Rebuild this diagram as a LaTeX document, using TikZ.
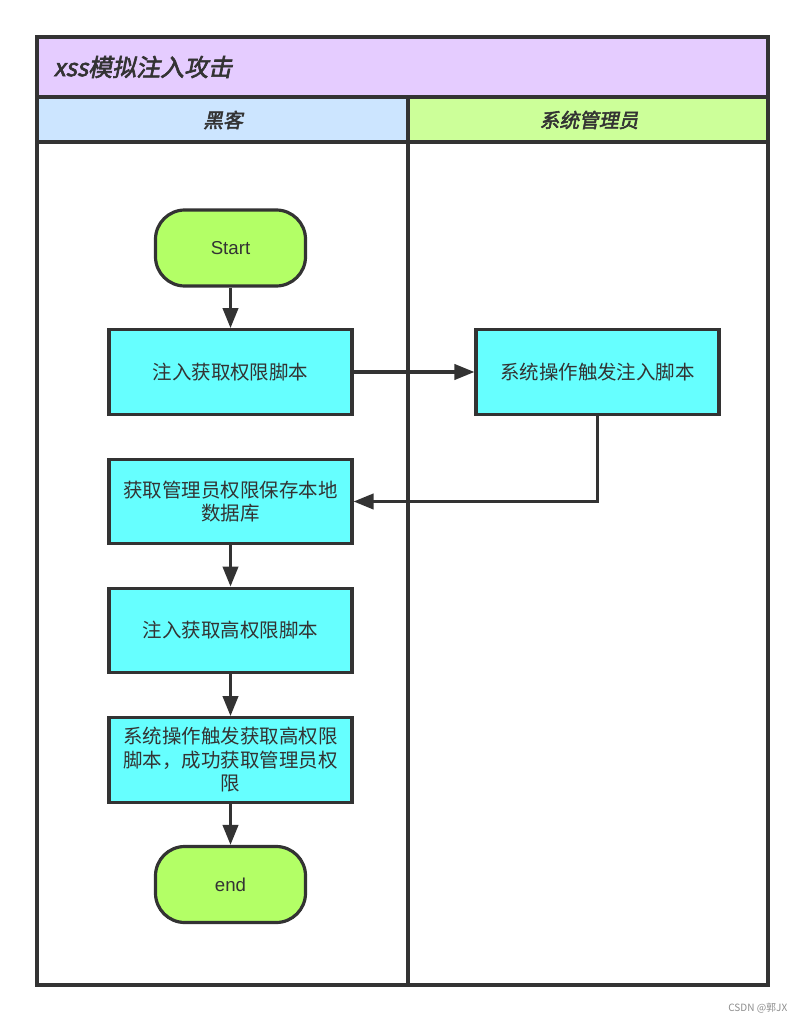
\documentclass[tikz,border=0pt]{standalone}
\usepackage{fontspec}
\setmainfont{Liberation Sans}
\newfontfamily\cjk{Noto Sans CJK SC}
\newfontfamily\cjkbi{Noto Sans CJK SC}[FakeBold=2.5,FakeSlant=0.2]
\usetikzlibrary{arrows.meta}
\definecolor{ink}{HTML}{333333}
\definecolor{titlefill}{HTML}{E5CCFF}
\definecolor{lanea}{HTML}{CCE5FF}
\definecolor{laneb}{HTML}{CCFF99}
\definecolor{termfill}{HTML}{B3FF66}
\definecolor{boxfill}{HTML}{66FFFF}
\tikzset{
  frame/.style={draw=ink,line width=2.4pt},
  stepbox/.style={draw=ink,line width=2.4pt,fill=boxfill,minimum width=182.25pt,minimum height=63.5pt,
    align=center,text=ink,font=\cjk\fontsize{14.6pt}{17.6pt}\selectfont,inner sep=2pt},
  term/.style={draw=ink,line width=2.4pt,fill=termfill,minimum width=112.5pt,minimum height=57pt,
    rounded corners=22pt,text=ink,font=\fontsize{14pt}{16pt}\selectfont},
  flow/.style={draw=ink,line width=2.3pt,-{Triangle[length=15pt,width=11.5pt]}},
  lanetitle/.style={text=ink,font=\cjkbi\fontsize{14.8pt}{17pt}\selectfont}
}
\begin{document}
\begin{tikzpicture}[x=0.75pt,y=-0.75pt]
\useasboundingbox (0,0) rectangle (805,1023);
% pool
\fill[titlefill] (37,37) rectangle (768,97);
\fill[lanea] (37,97) rectangle (408,142);
\fill[laneb] (408,97) rectangle (768,142);
\draw[frame] (37,37) rectangle (768,985);
\draw[frame] (37,97) -- (768,97);
\draw[frame] (37,142) -- (768,142);
\draw[frame] (408,97) -- (408,985);
\node[anchor=west,text=ink,font=\cjkbi\fontsize{18pt}{21pt}\selectfont] (title) at (49,67) {xss模拟注入攻击};
\node[lanetitle] (lanehack) at (223,120) {黑客};
\node[lanetitle] (laneadmin) at (589,120) {系统管理员};
% nodes
\node[term] (start) at (230.5,248) {Start};
\node[stepbox] (b1) at (230.5,372) {注入获取权限脚本};
\node[stepbox] (br) at (597.5,372) {系统操作触发注入脚本};
\node[stepbox] (b2) at (230.5,501.5) {获取管理员权限保存本地\\数据库};
\node[stepbox] (b3) at (230.5,630.5) {注入获取高权限脚本};
\node[stepbox] (b4) at (230.5,760) {系统操作触发获取高权限\\脚本，成功获取管理员权\\限};
\node[term] (end) at (230.5,884.5) {end};
% connectors
\draw[flow] (start) -- (b1);
\draw[flow] (b1) -- (br);
\draw[flow] (br.south) |- (b2.east);
\draw[flow] (b2) -- (b3);
\draw[flow] (b3) -- (b4);
\draw[flow] (b4) -- (end);
% watermark
\node[anchor=east,text=black!45,font=\cjk\fontsize{7.5pt}{9pt}\selectfont] (wm) at (792,1008) {CSDN @郭JX};
\end{tikzpicture}
\end{document}
